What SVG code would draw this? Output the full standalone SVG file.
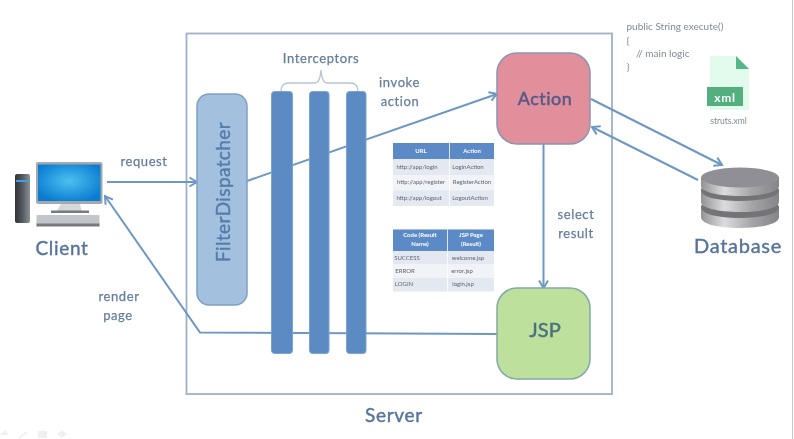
<svg xmlns="http://www.w3.org/2000/svg" width="794" height="439" viewBox="0 0 794 439">
<style>
text{font-family:"Lato","Liberation Sans",sans-serif}
.lbl{fill:#657d9e;stroke:#657d9e;stroke-width:.25px;font-size:13px;text-anchor:middle;letter-spacing:.6px}
.big{fill:#56749a;stroke:#56749a;stroke-width:.4px;font-size:19px;text-anchor:middle;letter-spacing:.7px}
.code{fill:#7f8a99;font-size:10px}
.conn{fill:none;stroke:#6d97c4;stroke-width:2}
.bar{fill:#5b8bc4;stroke:#7ba3d0;stroke-width:1}
.hd{fill:#5b8ac6}
.th{fill:#fff;font-size:6px;font-weight:700;text-anchor:middle}
.td{fill:#5f6570;font-size:6px;text-anchor:middle}
.disc{fill:url(#metal)}
</style>
<defs>
<marker id="arr" markerUnits="userSpaceOnUse" markerWidth="12" markerHeight="12" refX="9.5" refY="6" orient="auto"><path d="M2 1.5L9.5 6L2 10.5" fill="none" stroke="#6d97c4" stroke-width="2"/></marker>
<linearGradient id="metal" x1="0" x2="1" y1="0" y2="0"><stop offset="0" stop-color="#939396"/><stop offset=".3" stop-color="#dcdcde"/><stop offset=".65" stop-color="#a5a5a8"/><stop offset="1" stop-color="#858588"/></linearGradient>
<radialGradient id="screen" cx=".5" cy=".45" r=".6"><stop offset="0" stop-color="#4cc0f0"/><stop offset="1" stop-color="#0a7cd0"/></radialGradient>
<linearGradient id="tower" x1="0" x2="1" y1="0" y2="0"><stop offset="0" stop-color="#2f3338"/><stop offset=".5" stop-color="#555a60"/><stop offset="1" stop-color="#8b9096"/></linearGradient>
<filter id="soft" x="-5%" y="-5%" width="110%" height="110%"><feGaussianBlur stdDeviation="0.45"/></filter>
</defs>
<rect width="794" height="439" fill="#fff"/>
<g filter="url(#soft)">
<g id="server"><rect x="186.5" y="33.5" width="425.5" height="360.5" fill="none" stroke="#9fb1c8" stroke-width="1.8"/><text class="big" x="394" y="422">Server</text></g>
<g id="connectors">
<path class="conn" d="M107 182H197" marker-end="url(#arr)"/>
<path class="conn" d="M247 181L497 94" marker-end="url(#arr)"/>
<path class="conn" d="M497 334L200 332.500L105 196" marker-end="url(#arr)"/>
<path class="conn" d="M543.500 144V288" marker-end="url(#arr)"/>
<path class="conn" d="M591 99L722 165" marker-end="url(#arr)"/>
<path class="conn" d="M698 180L592 127" marker-end="url(#arr)"/>
<path d="M281 91Q281 83 289 83H315Q320 83 321 70Q322 83 327 83H350Q358 83 358 91" fill="none" stroke="#b9c5d3" stroke-width="1.300"/>
</g>
<g id="filter-dispatcher"><rect x="197" y="94" width="50" height="211" rx="12" fill="#a3c0de" stroke="#7f9fc2" stroke-width="1.500"/><text transform="translate(230 192) rotate(-90)" fill="#557bab" stroke="#557bab" stroke-width=".4" font-size="19" text-anchor="middle" letter-spacing=".4">FilterDispatcher</text></g>
<g id="interceptors"><rect class="bar" x="271.500" y="91.500" width="21" height="262" rx="3"/><rect class="bar" x="309.500" y="91.500" width="19.500" height="262" rx="3"/><rect class="bar" x="346.500" y="91.500" width="19.500" height="262" rx="3"/><text class="lbl" x="321" y="63">Interceptors</text></g>
<g id="action"><rect x="497" y="53" width="93" height="91" rx="20" fill="#e08f9b" stroke="#8d93b5" stroke-width="1.500"/><text x="545" y="105" fill="#55598a" stroke="#55598a" stroke-width=".5" font-size="18" text-anchor="middle" letter-spacing=".5">Action</text></g>
<g id="jsp"><rect x="497" y="288" width="93" height="91" rx="20" fill="#bde09c" stroke="#83a8a8" stroke-width="1.500"/><text x="545" y="337" fill="#4b727e" stroke="#4b727e" stroke-width=".5" font-size="20" text-anchor="middle">JSP</text></g>
<g id="labels">
<text class="lbl" x="144" y="166">request</text>
<text class="lbl" x="399.500" y="87">invoke</text><text class="lbl" x="400" y="106">action</text>
<text class="lbl" x="576" y="219">select</text><text class="lbl" x="576" y="238">result</text>
<text class="lbl" x="119" y="301">render</text><text class="lbl" x="118" y="320">page</text>
</g>
<g id="url-table">
<rect x="393" y="143" width="101" height="63" fill="#e4e8f0"/>
<rect class="hd" x="393" y="143" width="101" height="16"/>
<rect x="393" y="175" width="101" height="15.500" fill="#f1f3f7"/>
<path d="M449.500 143V206" stroke="#fff" stroke-width=".8"/>
<text class="th" x="421" y="152.500">URL</text><text class="th" x="472" y="152.500">Action</text>
<text class="td" x="417" y="168.500">http://app/login</text><text class="td" x="468" y="168.500">LoginAction</text>
<text class="td" x="421" y="183.500">http://app/register</text><text class="td" x="472" y="183.500">RegisterAction</text>
<text class="td" x="419" y="199.500">http://app/logout</text><text class="td" x="470" y="199.500">LogoutAction</text>
</g>
<g id="result-table">
<rect x="393" y="229.500" width="101" height="62" fill="#e4e8f0"/>
<rect class="hd" x="393" y="229.500" width="101" height="21.500"/>
<rect x="393" y="264" width="101" height="14" fill="#f1f3f7"/>
<path d="M447.500 229.500V291.500" stroke="#fff" stroke-width=".8"/>
<text class="th" x="420" y="237">Code (Result</text><text class="th" x="420" y="246">Name)</text>
<text class="th" x="471" y="237">JSP Page</text><text class="th" x="471" y="246">(Result)</text>
<text class="td" x="407" y="260">SUCCESS</text><text class="td" x="468" y="260">welcome.jsp</text>
<text class="td" x="405" y="273">ERROR</text><text class="td" x="462" y="273">error.jsp</text>
<text class="td" x="404" y="286">LOGIN</text><text class="td" x="463" y="286">login.jsp</text>
</g>
<g id="code"><text class="code" x="626.500" y="30">public String execute()</text><text class="code" x="626.500" y="43.500">{</text><text class="code" x="636" y="56.500">// main logic</text><text class="code" x="626.500" y="69.500">}</text></g>
<g id="struts-xml">
<path d="M710 56H736L749 69V110H710Z" fill="#e2fbed"/>
<path d="M736 56L749 69H736Z" fill="#52b788"/>
<rect x="707" y="87" width="36" height="19" fill="#52b07e"/>
<text x="725" y="101.500" fill="#fff" font-size="12" font-weight="700" text-anchor="middle" letter-spacing=".8">xml</text>
<text x="728.500" y="124" fill="#7f8a99" font-size="8.500" text-anchor="middle">struts.xml</text>
</g>
<g id="client">
<rect x="15" y="174" width="15" height="49" rx="2" fill="url(#tower)"/><rect x="16" y="180" width="13" height="2" fill="#3aa0de"/>
<rect x="36" y="162" width="66.500" height="42" rx="2" fill="#a4a9ae"/><rect x="38" y="164.500" width="62.500" height="36.500" fill="url(#screen)"/>
<path d="M61 204H80L82 212H56Z" fill="#d5d8db"/><rect x="51" y="210.500" width="38" height="2.500" fill="#777b80"/>
<rect x="36.500" y="215" width="63" height="10" rx="1" fill="#c2c5c9"/><rect x="36.500" y="223.500" width="63" height="3" fill="#74787d"/>
<text class="big" x="62" y="255">Client</text>
</g>
<g id="database">
<path class="disc" d="M701 207V217C701 224 718 228 740 228S779 224 779 217V207Z"/>
<path d="M701 207C701 214 718 218 740 218S779 214 779 207C779 201 760 197 740 197S701 201 701 207Z" fill="#737378"/>
<path class="disc" d="M701 190V202C701 208 718 212 740 212S779 208 779 202V190Z"/>
<path d="M701 190C701 197 718 201 740 201S779 197 779 190C779 184 760 180 740 180S701 184 701 190Z" fill="#737378"/>
<path class="disc" d="M701 177V186C701 192 718 196 740 196S779 192 779 186V177Z"/>
<ellipse cx="740" cy="177.500" rx="39" ry="10" fill="#8f8f95"/>
<text class="big" x="738" y="253" style="font-size:20px">Database</text>
</g>
<g id="player-marks" fill="#f0f0f2"><path d="M0 435L5 430L9 435Z"/><path d="M19 438L27 432" stroke="#f0f0f2" stroke-width="2"/><rect x="38" y="431" width="9" height="7"/><path d="M57 434L62 430L67 434L62 438Z"/></g>
</g>
<path d="M792.500 0V439" stroke="#c9c9cc" stroke-width="1"/>
</svg>
